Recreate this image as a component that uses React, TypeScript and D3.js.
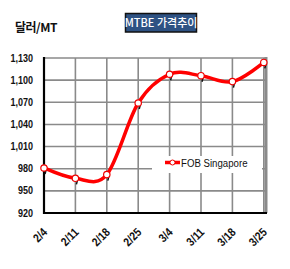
import React from "react";
import * as d3 from "d3";

const categories = ["2/4", "2/11", "2/18", "2/25", "3/4", "3/11", "3/18", "3/25"];
const fobSingapore = [981, 967, 972, 1069, 1108, 1106, 1098, 1124];
const yTicks = [920, 950, 980, 1010, 1040, 1070, 1100, 1130];

const W = 290, H = 269;
const left = 44, right = 266, top = 58, bottom = 213;

export default function App() {
  const x = d3.scalePoint<string>().domain(categories).range([left, left + 31.4 * 7]);
  const y = d3.scaleLinear().domain([920, 1130]).range([bottom, top]);
  const line = d3
    .line<number>()
    .x((_, i) => x(categories[i])!)
    .y((d) => y(d))
    .curve(d3.curveCatmullRom.alpha(0));
  const font = "'Liberation Sans', Arial, sans-serif";
  return (
    <svg width={W} height={H} style={{ position: "absolute", left: 0, top: 0 }}>
      <rect width={W} height={H} fill="#fff" />
      {/* title */}
      <rect x={125.5} y={13.5} width={71} height={18.5} fill="#2E5283" stroke="#111" strokeWidth={1.5} />
      <text x={161} y={27} textAnchor="middle" fill="#fff" fontFamily="'Noto Sans CJK KR', sans-serif" fontSize={11} fontWeight={500}>
        MTBE 가격추이
      </text>
      <text x={15} y={32} fill="#111" fontFamily="'Noto Sans CJK KR', sans-serif" fontSize={12} fontWeight={700} letterSpacing={-0.5}>
        달러/MT
      </text>
      {/* grid */}
      {yTicks.map((t) => (
        <line key={"h" + t} x1={left} x2={right} y1={y(t)} y2={y(t)} stroke="#8a8a8a" strokeWidth={1.6} />
      ))}
      {categories.map((c) => (
        <line key={"v" + c} x1={x(c)!} x2={x(c)!} y1={top} y2={bottom} stroke="#8a8a8a" strokeWidth={1.6} />
      ))}
      <line x1={right} x2={right} y1={top - 1} y2={bottom} stroke="#8a8a8a" strokeWidth={3} />
      {/* legend background */}
      <rect x={152} y={156} width={110} height={17} fill="#fff" />
      {/* axes */}
      <line x1={left} x2={left} y1={top - 1} y2={bottom + 1} stroke="#000" strokeWidth={2.2} />
      <line x1={left - 1} x2={right + 1} y1={bottom} y2={bottom} stroke="#000" strokeWidth={2.2} />
      {/* y labels */}
      {yTicks.map((t) => (
        <text
          key={"yl" + t}
          transform={`translate(33,${y(t) + 3.5}) scale(0.82,1)`}
          textAnchor="end"
          fontFamily={font}
          fontSize={11}
          fontWeight={700}
          fill="#111"
        >
          {d3.format(",")(t)}
        </text>
      ))}
      {/* x labels */}
      {categories.map((c) => (
        <text
          key={"xl" + c}
          transform={`translate(${x(c)! + 4},${233}) rotate(-45) scale(0.85,1)`}
          textAnchor="end"
          fontFamily={font}
          fontSize={12}
          fontWeight={700}
          fill="#111"
        >
          {c}
        </text>
      ))}
      {/* line */}
      <path d={line(fobSingapore) || ""} fill="none" stroke="#f00" strokeWidth={3.5} />
      {fobSingapore.map((v, i) => (
        <g key={"m" + i}>
          <line x1={x(categories[i])! + 2} y1={y(v) + 2} x2={x(categories[i])! + 1} y2={y(v) + 6} stroke="#111" strokeWidth={1.5} />
          <circle cx={x(categories[i])!} cy={y(v)} r={3.2} fill="#fff" stroke="#e00" strokeWidth={1.2} />
        </g>
      ))}
      {/* legend */}
      <line x1={165} x2={180} y1={162.5} y2={162.5} stroke="#f00" strokeWidth={3.5} />
      <circle cx={172.5} cy={162.5} r={2.5} fill="#fff" stroke="#e00" strokeWidth={1} />
      <text transform="translate(181,166.5) scale(0.84,1)" fontFamily={font} fontSize={11.5} fill="#111">
        FOB Singapore
      </text>
    </svg>
  );
}
